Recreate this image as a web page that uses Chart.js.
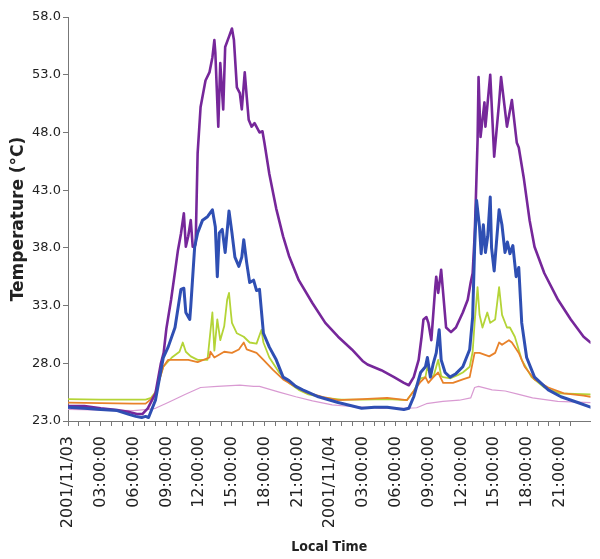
<!DOCTYPE html>
<html>
<head>
<meta charset="utf-8">
<script src="https://cdn.jsdelivr.net/npm/chart.js@4/dist/chart.umd.min.js"></script>
<style>
  html, body { margin: 0; padding: 0; background: #ffffff; }
  #wrap { width: 600px; height: 559px; }
</style>
</head>
<body>
<div id="wrap"><canvas id="c" width="600" height="559"></canvas></div>
<script>
// ---- data (hours since 2001/11/03 00:00, temperature in °C) ----
const xTickLabels = ['2001/11/03','03:00:00','06:00:00','09:00:00','12:00:00','15:00:00','18:00:00','21:00:00',
                     '2001/11/04','03:00:00','06:00:00','09:00:00','12:00:00','15:00:00','18:00:00','21:00:00'];

const purpleHours = [0,1.5,3,4.5,5.5,6.3,6.8,7.3,8.0,8.5,8.75,9.0,9.43,9.8,10.06,10.33,10.6,10.78,11.0,11.23,11.41,11.59,11.68,11.86,12.13,12.58,12.94,13.21,13.39,13.48,13.75,13.93,14.2,14.38,14.73,15.0,15.18,15.45,15.72,15.9,16.17,16.35,16.53,16.8,17.07,17.52,17.79,17.97,18.42,19.05,19.68,20.22,21.11,22.37,23.54,24.71,25.97,26.95,27.4,28.66,29.83,30.73,31.18,31.63,32.08,32.35,32.52,32.79,32.97,33.24,33.6,33.69,33.87,34.14,34.32,34.59,35.04,35.49,36.12,36.57,36.84,37.02,37.2,37.29,37.47,37.56,37.74,38.1,38.19,38.63,38.99,39.44,39.62,40.16,40.61,41.06,41.24,41.69,42.23,42.68,43.58,44.83,46.0,47.17,47.8];
const purpleTemp  = [24.3,24.3,24.1,23.95,23.8,23.6,23.6,24.1,25.4,28.0,28.9,31.0,33.5,36.0,37.8,39.2,41.0,38.1,39.0,40.4,38.1,38.1,38.4,46.2,50.2,52.5,53.2,54.5,56.0,54.9,48.5,54.0,50.0,55.4,56.3,57.0,56.0,51.9,51.4,50.0,53.2,51.1,49.1,48.5,48.8,48.0,48.1,47.1,44.4,41.4,39.0,37.3,35.2,33.2,31.5,30.3,29.2,28.2,27.9,27.4,26.8,26.3,26.1,26.8,28.3,30.3,31.8,32.0,31.5,30.0,34.6,35.5,34.1,36.1,34.1,31.1,30.7,31.1,32.4,33.5,35.0,35.8,39.0,41.5,47.3,52.8,47.6,50.6,48.5,53.0,45.9,50.6,52.8,48.5,50.8,47.1,46.7,44.1,40.4,38.1,35.8,33.5,31.8,30.3,29.8];

const blueHours = [0,1.5,3,4.5,5.5,6.2,6.74,7.1,7.37,8.0,8.72,9.16,9.79,10.33,10.6,10.78,11.14,11.23,11.59,11.86,12.31,12.76,13.21,13.48,13.66,13.84,14.11,14.38,14.73,15.0,15.27,15.63,15.9,16.08,16.35,16.62,16.98,17.25,17.52,17.88,18.42,19.05,19.68,20.22,20.84,21.47,22.91,24.71,26.86,28.03,29.2,30.73,31.18,31.63,32.26,32.7,32.88,33.15,33.42,33.69,33.96,34.14,34.5,34.95,35.49,36.12,36.75,37.02,37.2,37.38,37.65,37.8,38.0,38.19,38.4,38.63,38.75,38.99,39.2,39.44,39.7,39.98,40.2,40.43,40.7,41.0,41.24,41.51,41.96,42.68,43.94,45.1,46.63,47.8];
const blueTemp  = [24.2,24.1,24.0,23.9,23.6,23.4,23.3,23.4,23.3,24.8,28.5,29.4,31.1,34.4,34.5,32.4,31.8,32.9,38.1,39.3,40.4,40.7,41.3,39.8,35.5,39.3,39.6,37.6,41.2,39.3,37.2,36.4,37.2,38.7,36.7,35.0,35.2,34.3,34.4,30.6,29.4,28.3,26.8,26.5,26.0,25.7,25.1,24.6,24.1,24.2,24.2,24.0,24.1,25.1,27.2,27.7,28.5,26.8,28.0,28.9,30.9,28.3,27.2,26.8,27.1,27.7,29.2,32.0,38.0,42.1,39.8,37.5,40.0,37.6,39.0,42.4,38.0,36.0,38.5,41.3,40.0,37.6,38.5,37.5,38.2,35.5,36.3,31.5,28.5,26.8,25.7,25.1,24.6,24.2];

const greenHours = [0,3,6,7.1,7.6,8.0,8.72,9.5,10.2,10.5,10.78,11.23,11.86,12.76,13.21,13.39,13.66,13.93,14.29,14.56,14.73,14.9,15.0,15.45,16.08,16.62,17.25,17.7,17.88,18.42,19.32,20.22,21.11,22.0,23.5,25.0,27.0,29.2,31.0,31.63,32.26,32.7,32.88,33.15,33.42,33.87,34.14,34.32,35.0,35.7,36.12,36.75,37.02,37.2,37.47,37.65,37.92,38.36,38.63,39.08,39.44,39.71,40.16,40.43,40.88,41.51,42.41,43.58,45.0,47.8];
const greenTemp  = [24.9,24.85,24.85,24.85,25.0,25.5,27.7,28.5,29.0,29.8,29.0,28.6,28.3,28.3,32.4,29.1,31.8,30.0,31.2,33.5,34.1,32.4,31.5,30.6,30.3,29.8,29.7,30.9,29.8,28.5,27.2,26.3,25.7,25.3,25.0,24.85,24.85,24.9,24.8,25.6,26.7,26.8,27.7,27.0,26.8,28.3,26.9,26.8,26.7,27.0,27.2,27.7,29.0,31.5,34.6,32.2,31.1,32.4,31.5,31.8,34.6,32.2,31.1,31.1,30.3,28.3,26.8,25.9,25.4,25.3];

const orangeHours = [0,3,6,7.1,7.6,8.0,8.72,9.16,10.06,11.0,11.86,12.94,13.03,13.39,14.29,15.0,15.63,16.08,16.35,17.25,17.88,18.78,19.68,20.58,21.74,23.27,24.71,26.95,29.2,31.0,31.63,32.26,32.7,32.97,33.42,33.87,34.32,35.22,36.12,36.75,37.2,37.65,38.54,39.08,39.44,39.71,40.34,40.61,41.24,41.78,42.68,43.94,45.37,47.17,47.8];
const orangeTemp  = [24.6,24.55,24.5,24.5,24.9,25.4,27.7,28.3,28.3,28.3,28.1,28.5,29.0,28.5,29.0,28.9,29.2,29.8,29.2,28.9,28.3,27.4,26.6,26.1,25.5,25.1,24.8,24.9,25.0,24.8,25.6,26.4,26.8,26.3,26.8,27.2,26.3,26.3,26.6,26.8,28.9,28.9,28.6,28.9,29.8,29.6,30.0,29.8,28.9,27.7,26.6,25.9,25.4,25.2,25.1];

const pinkHours = [0,6.0,7.3,8.0,9.16,10.7,12.13,13.66,15.72,16.98,17.52,19.32,20.84,22.37,24.17,25.34,26.86,28.66,30.73,31.9,32.79,34.3,35.8,36.84,37.2,37.56,38.8,40.0,41.24,42.5,44.8,47.8];
const pinkTemp  = [24.0,23.9,24.0,24.1,24.6,25.3,25.9,26.0,26.1,26.0,26.0,25.5,25.1,24.75,24.4,24.3,24.2,24.1,24.1,24.15,24.5,24.7,24.8,25.0,25.9,26.0,25.7,25.6,25.3,25.0,24.7,24.6];

function pts(hs, ts) { return hs.map((h, i) => ({ x: h, y: ts[i] })); }

const tickFont = { family: "'DejaVu Sans', sans-serif", size: 13 };
const xTickFont = { family: "'DejaVu Sans', sans-serif", size: 16 };

new Chart(document.getElementById('c'), {
  type: 'line',
  data: {
    datasets: [
      { data: pts(blueHours, blueTemp), borderColor: '#2f4fb3', borderWidth: 3, order: 0 },
      { data: pts(purpleHours, purpleTemp), borderColor: '#76279a', borderWidth: 2.6, order: 1 },
      { data: pts(orangeHours, orangeTemp), borderColor: '#e8822a', borderWidth: 1.8, order: 2 },
      { data: pts(greenHours, greenTemp), borderColor: '#b4d437', borderWidth: 1.8, order: 3 },
      { data: pts(pinkHours, pinkTemp), borderColor: '#d99ad2', borderWidth: 1.2, order: 4 }
    ]
  },
  options: {
    responsive: false,
    animation: false,
    layout: { padding: { top: 17, right: 0, left: 0, bottom: 0 } },
    elements: {
      point: { radius: 0 },
      line: { tension: 0, borderJoinStyle: 'round', borderCapStyle: 'round' }
    },
    plugins: { legend: { display: false }, tooltip: { enabled: false } },
    scales: {
      x: {
        type: 'linear',
        min: 0,
        max: 47.8,
        afterFit: (s) => { s.height = 138; },
        grid: { display: true, drawOnChartArea: false, drawTicks: true, tickLength: 5, color: '#777' },
        border: { display: true, color: '#777', width: 1 },
        ticks: {
          stepSize: 1,
          autoSkip: false,
          minRotation: 90,
          maxRotation: 90,
          padding: 10,
          color: '#222',
          font: xTickFont,
          callback: (v) => {
            if (!Number.isInteger(v)) return null;
            if (v % 3 !== 0) return '';
            const lab = xTickLabels[v / 3];
            return lab === undefined ? '' : lab;
          }
        },
        title: {
          display: true,
          text: 'Local Time',
          color: '#222',
          font: { family: "'DejaVu Sans Condensed', sans-serif", size: 14, weight: 'bold' },
          padding: { top: 0, bottom: 3 }
        }
      },
      y: {
        min: 23,
        max: 58,
        afterFit: (s) => { s.width = 68; },
        grid: { display: true, drawOnChartArea: false, drawTicks: true, tickLength: 5, color: '#777' },
        border: { display: true, color: '#777', width: 1 },
        ticks: {
          stepSize: 5,
          padding: 2,
          color: '#222',
          font: tickFont,
          callback: (v) => Number(v).toFixed(1)
        },
        title: {
          display: true,
          text: 'Temperature (°C)',
          color: '#222',
          font: { family: "'DejaVu Sans', sans-serif", size: 17, weight: 'bold' },
          padding: { top: 8, bottom: 0 }
        }
      }
    }
  }
});
</script>
</body>
</html>
